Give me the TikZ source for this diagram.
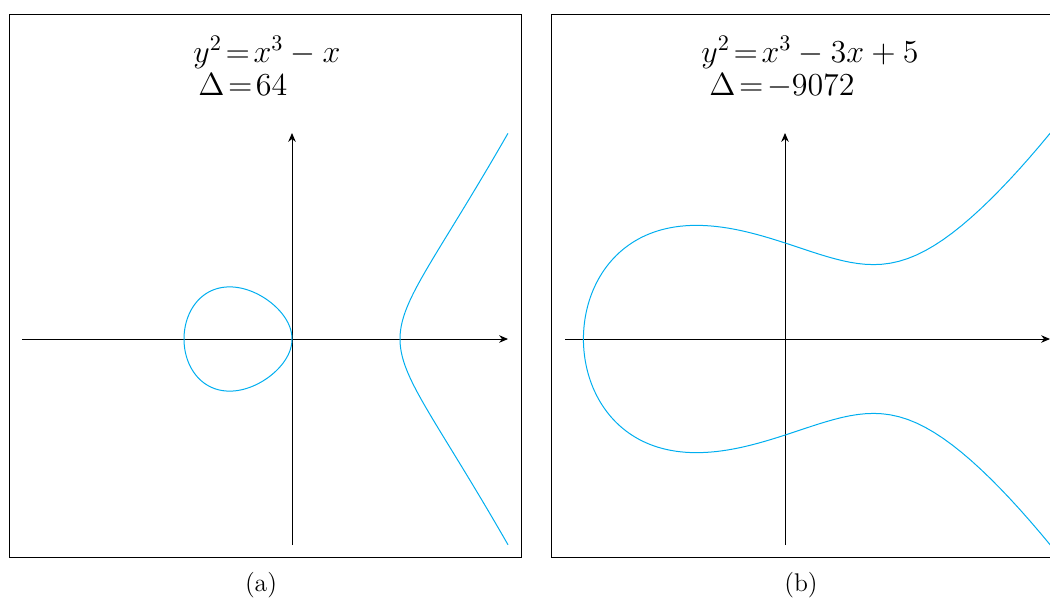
\documentclass[tikz,border=0pt]{standalone}
\usetikzlibrary{arrows.meta}
\definecolor{curveblue}{RGB}{0,174,239}
\begin{document}
\begin{tikzpicture}[x=0.45pt,y=-0.45pt,
  panel/.style={draw=black,line width=0.4pt},
  axisline/.style={draw=black,line width=0.4pt,-{Stealth[length=4pt,width=3.4pt]}},
  curve/.style={draw=curveblue,line width=0.45pt},
  eqtext/.style={anchor=base west,inner sep=0pt,font=\fontsize{13.9pt}{16pt}\selectfont},
  captext/.style={anchor=base,inner sep=0pt,font=\fontsize{11.5pt}{13pt}\selectfont}]
\useasboundingbox (0,0) rectangle (1050,601);
% ---------- panel (a)
\draw[panel] (9,14) rectangle (521,557);
\coordinate (ax1w) at (22,339);
\coordinate (ax1e) at (508,339);
\coordinate (ay1s) at (292,545);
\coordinate (ay1n) at (292,133);
\draw[axisline] (ax1w) -- (ax1e);
\draw[axisline] (ay1s) -- (ay1n);
\begin{scope}[shift={(292,339)},x=48.6pt,y=37.8pt]
  \draw[curve] plot[domain=0:360,samples=181,variable=\t]
    ({-0.5-0.5*cos(\t)},{0.5*sin(\t)*sqrt(1.5+0.5*cos(\t))}) -- cycle;
  \draw[curve] plot[domain=-1:1,samples=121,variable=\u]
    ({1+\u*\u},{\u*sqrt((1+\u*\u)*(2+\u*\u))});
\end{scope}
\node[eqtext] (eqa1) at (193,62) {$\thickmuskip=2mu y^2 = x^3 - x$};
\node[eqtext] (eqa2) at (198,95) {$\thickmuskip=2mu \Delta = 64$};
\node[captext] (capa) at (261,591) {(a)};
% ---------- panel (b)
\draw[panel] (1050,14) -- (551,14) -- (551,557) -- (1050,557);
\coordinate (ax2w) at (565,339);
\coordinate (ax2e) at (1050,339);
\coordinate (ay2s) at (785,545);
\coordinate (ay2n) at (785,133);
\draw[axisline] (ax2w) -- (ax2e);
\draw[axisline] (ay2s) -- (ay2n);
\begin{scope}[shift={(785,339)},x=39.8pt,y=19.33pt]
  \draw[curve] plot[domain=-2.2976:2.2976,samples=181,variable=\u]
    ({-2.279+\u*\u},{\u*sqrt((-2.279+\u*\u)*(-2.279+\u*\u)-2.279*(-2.279+\u*\u)+2.1938)});
\end{scope}
\node[eqtext] (eqb1) at (701,62) {$\thickmuskip=2mu y^2 = x^3 - 3x + 5$};
\node[eqtext] (eqb2) at (709,95) {$\thickmuskip=2mu \Delta = -9072$};
\node[captext] (capb) at (801,591) {(b)};
\end{tikzpicture}
\end{document}
